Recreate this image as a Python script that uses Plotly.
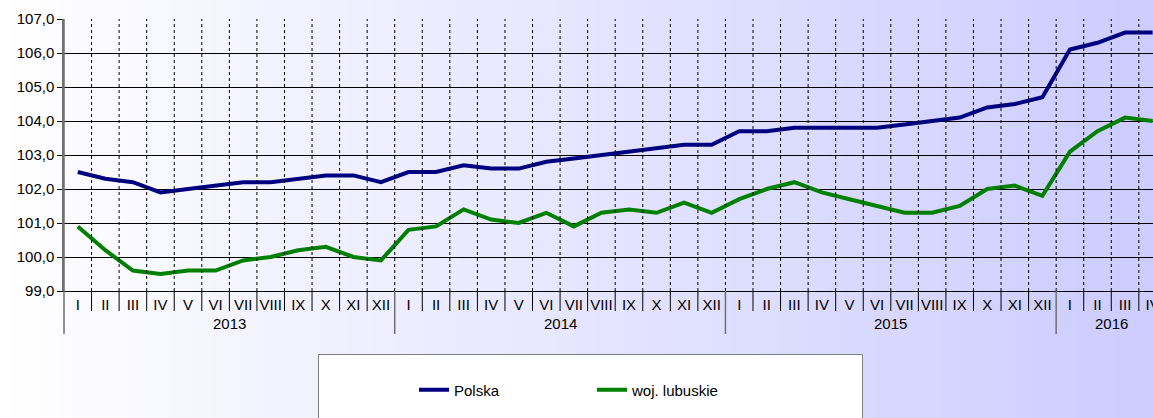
import plotly.graph_objects as go

# ---- data ----
years = ["2013", "2014", "2015", "2016"]
months = ["I", "II", "III", "IV", "V", "VI", "VII", "VIII", "IX", "X", "XI", "XII"]
month_labels = months * 3 + months[:4]

polska = [102.5, 102.3, 102.2, 101.9, 102.0, 102.1, 102.2, 102.2, 102.3, 102.4, 102.4, 102.2,
          102.5, 102.5, 102.7, 102.6, 102.6, 102.8, 102.9, 103.0, 103.1, 103.2, 103.3, 103.3,
          103.7, 103.7, 103.8, 103.8, 103.8, 103.8, 103.9, 104.0, 104.1, 104.4, 104.5, 104.7,
          106.1, 106.3, 106.6, 106.6]
lubuskie = [100.9, 100.2, 99.6, 99.5, 99.6, 99.6, 99.9, 100.0, 100.2, 100.3, 100.0, 99.9,
            100.8, 100.9, 101.4, 101.1, 101.0, 101.3, 100.9, 101.3, 101.4, 101.3, 101.6, 101.3,
            101.7, 102.0, 102.2, 101.9, 101.7, 101.5, 101.3, 101.3, 101.5, 102.0, 102.1, 101.8,
            103.1, 103.7, 104.1, 104.0]
series_names = ["Polska", "woj. lubuskie"]

# ---- layout constants ----
W, H = 1153, 418
ML, MR, MT, MB = 64, 0, 19, 127
PW, PH = W - ML - MR, H - MT - MB
FONT = "Liberation Sans, Arial, sans-serif"
n = len(month_labels)
x = list(range(n))


def py_abs(px):  # absolute pixel y -> paper y
    return (MT + PH - px) / PH


def pxx(px):  # absolute pixel x -> paper x
    return (px - ML) / PW


fig = go.Figure()
fig.add_trace(go.Scatter(x=x, y=polska, mode="lines", name=series_names[0],
                         line=dict(color="#000080", width=4), legend="legend"))
fig.add_trace(go.Scatter(x=x, y=lubuskie, mode="lines", name=series_names[1],
                         line=dict(color="#008000", width=4), legend="legend2"))

shapes = []
# background gradient (white -> lavender)
N = 120
x_left = pxx(0)
x_right = pxx(W)
for i in range(N):
    t = (i + 0.5) / N
    r = round(255 - (255 - 204) * t)
    shapes.append(dict(type="rect", xref="paper", yref="paper", layer="below",
                       x0=x_left + (x_right - x_left) * i / N,
                       x1=x_left + (x_right - x_left) * (i + 1) / N + 0.002,
                       y0=py_abs(H + 5), y1=py_abs(-5),
                       line=dict(width=0), fillcolor=f"rgb({r},{r},255)"))

# legend box
shapes.append(dict(type="rect", xref="paper", yref="paper", layer="below",
                   x0=pxx(318.5), x1=pxx(862.5), y0=py_abs(H + 10), y1=py_abs(354.5),
                   line=dict(color="#808080", width=1), fillcolor="white"))

# month boundaries
for k in range(n - 1):
    b = k + 0.5
    shapes.append(dict(type="line", xref="x", yref="y", x0=b, x1=b, y0=99, y1=107,
                       line=dict(color="black", width=1, dash="dot")))
    if (k + 1) % 12 == 0:
        shapes.append(dict(type="line", xref="x", yref="paper", x0=b, x1=b, y0=0, y1=py_abs(334),
                           line=dict(color="#707070", width=1.5)))
    else:
        shapes.append(dict(type="line", xref="x", yref="paper", x0=b, x1=b, y0=0, y1=py_abs(311),
                           line=dict(color="black", width=1)))
# left axis extension
shapes.append(dict(type="line", xref="paper", yref="paper", x0=0, x1=0, y0=1, y1=py_abs(334),
                   line=dict(color="#707070", width=1.5)))

annotations = []
year_centers = [5.5, 17.5, 29.5, 37.5]
for yr, c in zip(years, year_centers):
    annotations.append(dict(text=yr, x=c, xref="x", y=py_abs(323), yref="paper",
                            showarrow=False, yanchor="middle", xanchor="center",
                            font=dict(family=FONT, size=15, color="black")))

fig.update_layout(
    width=W, height=H,
    margin=dict(l=ML, r=MR, t=MT, b=MB, autoexpand=False),
    paper_bgcolor="white",
    plot_bgcolor="rgba(0,0,0,0)",
    separators=", ",
    font=dict(family=FONT, size=15, color="black"),
    shapes=shapes,
    annotations=annotations,
    showlegend=True,
    legend=dict(x=pxx(414), xanchor="left", y=py_abs(390), yanchor="middle",
                orientation="h", bgcolor="rgba(0,0,0,0)", borderwidth=0,
                font=dict(family=FONT, size=15, color="black")),
    legend2=dict(x=pxx(592), xanchor="left", y=py_abs(390), yanchor="middle",
                 orientation="h", bgcolor="rgba(0,0,0,0)", borderwidth=0,
                 font=dict(family=FONT, size=15, color="black")),
    xaxis=dict(range=[-0.5, -0.5 + PW / 27.56], tickmode="array", tickvals=x,
               ticktext=month_labels, showgrid=False, zeroline=False, automargin=False,
               ticks="", showline=True, linecolor="black", linewidth=1,
               ticklabeloverflow="allow",
               tickfont=dict(family=FONT, size=15, color="black")),
    yaxis=dict(range=[99, 107], dtick=1, tick0=99, tickformat=".1f", automargin=False,
               showgrid=True, gridcolor="black", gridwidth=1, zeroline=False,
               ticks="outside", ticklen=5, tickcolor="black",
               showline=True, linecolor="#707070", linewidth=1.5,
               tickfont=dict(family=FONT, size=15, color="black")),
)

fig.write_html("out.html", config={"displayModeBar": False},
               post_script="document.body.style.margin='0';document.body.style.overflow='hidden';")
